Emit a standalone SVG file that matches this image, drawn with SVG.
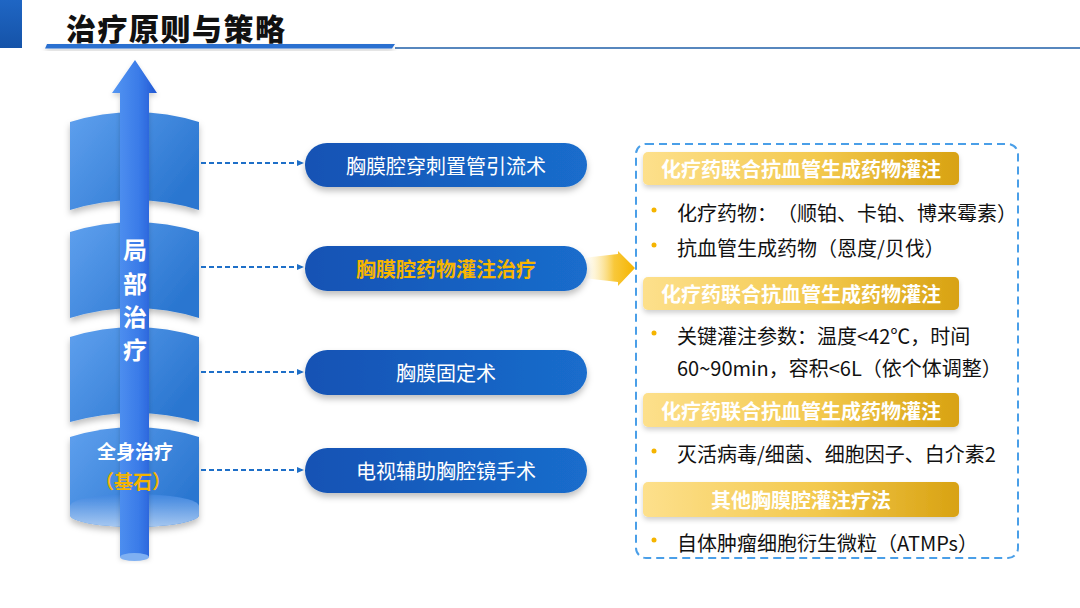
<svg xmlns="http://www.w3.org/2000/svg" width="1080" height="608" viewBox="0 0 1080 608">
<defs>
<style>
.cjk{font-family:"Noto Sans CJK SC","Noto Sans",sans-serif;text-spacing-trim:space-all}
.pillt{font-size:20px;fill:#fff;text-anchor:middle;dominant-baseline:central}
.hdt{font-size:20px;font-weight:700;fill:#fff;text-anchor:middle;dominant-baseline:central}
.bt{font-size:20px;fill:#111;dominant-baseline:central}
.vt{font-size:24px;font-weight:700;fill:#fff;text-anchor:middle;dominant-baseline:central}
.dot{fill:#f5b400}
.conn{stroke:#1e6fc8;stroke-width:1.8;stroke-dasharray:5 3;fill:none}
</style>
<linearGradient id="gCyl" x1="0" y1="0" x2="1" y2="0.6">
<stop offset="0" stop-color="#5fa0ee"/><stop offset="1" stop-color="#2a76d0"/>
</linearGradient>
<linearGradient id="gCylBot" x1="0" y1="0" x2="0" y2="1">
<stop offset="0" stop-color="#3f86e0"/><stop offset="1" stop-color="#b3d0f4"/>
</linearGradient>
<linearGradient id="gArrow" x1="0" y1="0" x2="1" y2="0">
<stop offset="0" stop-color="#5596f2"/><stop offset="0.6" stop-color="#3a7be8"/><stop offset="1" stop-color="#2258d4"/>
</linearGradient>
<linearGradient id="gPill" x1="0" y1="0" x2="1" y2="0">
<stop offset="0" stop-color="#1252b4"/><stop offset="1" stop-color="#1a6dcc"/>
</linearGradient>
<linearGradient id="gHd" x1="0" y1="0" x2="1" y2="0">
<stop offset="0" stop-color="#fde08c"/><stop offset="0.55" stop-color="#f3c94e"/><stop offset="1" stop-color="#d8a212"/>
</linearGradient>
<linearGradient id="gYA" x1="0" y1="0" x2="1" y2="0">
<stop offset="0" stop-color="#fff3c8" stop-opacity="0"/><stop offset="0.6" stop-color="#f8c83a"/><stop offset="1" stop-color="#f5b400"/>
</linearGradient>
<linearGradient id="gBar" x1="0" y1="0" x2="0" y2="1">
<stop offset="0" stop-color="#1f66c4"/><stop offset="1" stop-color="#1553a8"/>
</linearGradient>
<filter id="sh" x="-20%" y="-20%" width="140%" height="160%">
<feDropShadow dx="0" dy="4" stdDeviation="3" flood-color="#000" flood-opacity="0.25"/>
</filter>
<filter id="shs" x="-20%" y="-20%" width="140%" height="160%">
<feDropShadow dx="0" dy="3" stdDeviation="2.5" flood-color="#000" flood-opacity="0.18"/>
</filter>
<marker id="ah" markerWidth="8" markerHeight="8" refX="6" refY="4" orient="auto" markerUnits="userSpaceOnUse">
<path d="M0,1 L7,4 L0,7 Z" fill="#1e6fc8"/>
</marker>
</defs>
<rect width="1080" height="608" fill="#fff"/>

<g id="header">
<rect x="0" y="0" width="22" height="48" fill="url(#gBar)"/>
<text class="cjk" x="66" y="27" font-size="30" font-weight="900" fill="#111" dominant-baseline="central" letter-spacing="1.5">治疗原则与策略</text>
<line x1="395" y1="48" x2="1080" y2="48" stroke="#1f5fa8" stroke-width="1.5"/>
<path d="M47,44 L395,44 L392,48.5 L45,48.5 Z" fill="#2a6fd0" filter="url(#shs)"/>
</g>

<g id="cylinder">
<path d="M70,122 Q135,102 199,122 L199,210 Q135,190 70,210 Z" fill="url(#gCyl)" filter="url(#sh)"/>
<path d="M70,232 Q135,212 199,232 L199,318 Q135,298 70,318 Z" fill="url(#gCyl)" filter="url(#sh)"/>
<path d="M70,337 Q135,317 199,337 L199,422 Q135,404 70,422 Z" fill="url(#gCyl)" filter="url(#sh)"/>
<g filter="url(#sh)">
<path d="M70,437 Q135,417 199,437 L199,515 A64.5,12 0 0 1 70,515 Z" fill="url(#gCyl)"/>
<path d="M70,515 A64.5,12 0 0 0 199,515 L199,506 A64.5,12 0 0 0 70,506 Z" fill="url(#gCylBot)" opacity="0.9"/>
</g>
</g>

<g id="axis-arrow">
<path d="M135,60 L157,93 L149,93 L149,557 L120,557 L120,93 L112,93 Z" fill="url(#gArrow)" filter="url(#shs)"/>
<ellipse cx="134.5" cy="557" rx="14.5" ry="4" fill="#7fb0f2"/>
<text class="cjk vt" x="135" y="248">局</text>
<text class="cjk vt" x="135" y="282">部</text>
<text class="cjk vt" x="135" y="315">治</text>
<text class="cjk vt" x="135" y="348">疗</text>
</g>

<g id="systemic">
<text class="cjk" x="135" y="450" font-size="19" font-weight="700" fill="#fff" text-anchor="middle" dominant-baseline="central">全身治疗</text>
<text class="cjk" x="133" y="480" font-size="19" font-weight="700" fill="#f5b400" text-anchor="middle" dominant-baseline="central">（基石）</text>
</g>

<g id="connectors">
<line class="conn" x1="201" y1="163" x2="303" y2="163" marker-end="url(#ah)"/>
<line class="conn" x1="201" y1="267" x2="303" y2="267" marker-end="url(#ah)"/>
<line class="conn" x1="201" y1="372" x2="303" y2="372" marker-end="url(#ah)"/>
<line class="conn" x1="201" y1="470" x2="303" y2="470" marker-end="url(#ah)"/>
<path d="M583,258 L618,254 L618,251 L635,268 L618,286 L618,282 L583,278 Z" fill="url(#gYA)"/>
</g>

<g id="pill1">
<rect x="305" y="143" width="282" height="44" rx="22" fill="url(#gPill)" filter="url(#sh)"/>
<text class="cjk pillt" x="446" y="165">胸膜腔穿刺置管引流术</text>
</g>
<g id="pill2">
<rect x="305" y="246" width="282" height="45" rx="22.5" fill="url(#gPill)" filter="url(#sh)"/>
<text class="cjk pillt" x="446" y="268" style="fill:#f7b500" font-weight="700">胸膜腔药物灌注治疗</text>
</g>
<g id="pill3">
<rect x="305" y="350" width="282" height="45" rx="22.5" fill="url(#gPill)" filter="url(#sh)"/>
<text class="cjk pillt" x="446" y="372">胸膜固定术</text>
</g>
<g id="pill4">
<rect x="305" y="448" width="282" height="45" rx="22.5" fill="url(#gPill)" filter="url(#sh)"/>
<text class="cjk pillt" x="446" y="470">电视辅助胸腔镜手术</text>
</g>

<g id="detail-box">
<rect x="636" y="144" width="382" height="414" rx="10" fill="none" stroke="#4a9fe8" stroke-width="2" stroke-dasharray="8 5"/>
</g>

<g id="section1">
<rect x="643" y="152" width="316" height="33" rx="5" fill="url(#gHd)" filter="url(#shs)"/>
<text class="cjk hdt" x="801" y="168.5">化疗药联合抗血管生成药物灌注</text>
<circle class="dot" cx="654" cy="210" r="2.5"/>
<text class="cjk bt" x="677" y="212">化疗药物：（顺铂、卡铂、博来霉素）</text>
<circle class="dot" cx="654" cy="245" r="2.5"/>
<text class="cjk bt" x="677" y="247">抗血管生成药物（恩度/贝伐）</text>
</g>
<g id="section2">
<rect x="643" y="277" width="316" height="33" rx="5" fill="url(#gHd)" filter="url(#shs)"/>
<text class="cjk hdt" x="801" y="293.5">化疗药联合抗血管生成药物灌注</text>
<circle class="dot" cx="654" cy="333" r="2.5"/>
<text class="cjk bt" x="677" y="335">关键灌注参数：温度&lt;42℃，时间</text>
<text class="cjk bt" x="677" y="367">60~90min，容积&lt;6L（依个体调整）</text>
</g>
<g id="section3">
<rect x="643" y="393" width="316" height="34" rx="5" fill="url(#gHd)" filter="url(#shs)"/>
<text class="cjk hdt" x="801" y="410">化疗药联合抗血管生成药物灌注</text>
<circle class="dot" cx="654" cy="451" r="2.5"/>
<text class="cjk bt" x="677" y="453">灭活病毒/细菌、细胞因子、白介素2</text>
</g>
<g id="section4">
<rect x="643" y="482" width="316" height="35" rx="5" fill="url(#gHd)" filter="url(#shs)"/>
<text class="cjk hdt" x="801" y="499.5">其他胸膜腔灌注疗法</text>
<circle class="dot" cx="654" cy="540" r="2.5"/>
<text class="cjk bt" x="677" y="542">自体肿瘤细胞衍生微粒（ATMPs）</text>
</g>
</svg>
